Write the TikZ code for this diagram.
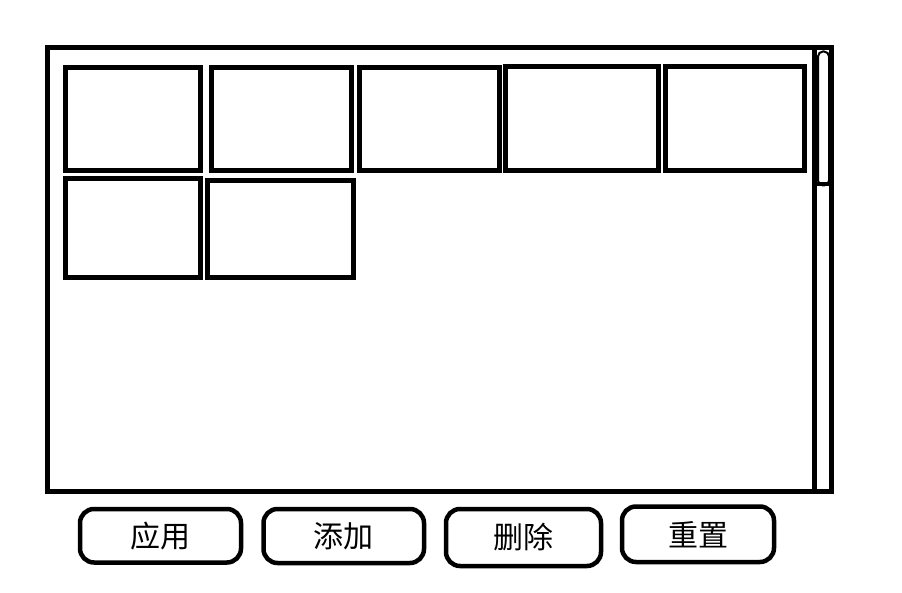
\documentclass[tikz,border=0pt]{standalone}
\usepackage{fontspec}
\newfontfamily\cjk{Noto Sans CJK SC}
\begin{document}
\begin{tikzpicture}[x=1pt,y=-1pt,
  tile/.style={draw=black,line width=5pt,rectangle,inner sep=0pt,fill=white},
  btn/.style={draw=black,line width=4.5pt,rectangle,rounded corners=14pt,inner sep=0pt,
    font=\cjk\fontsize{30}{30}\selectfont},
  frame/.style={draw=black,line width=5pt,rectangle,inner sep=0pt}]
\useasboundingbox (0,0) rectangle (902,593);
\fill[white] (0,0) rectangle (902,593);
% outer frame
\node[frame,minimum width=784pt,minimum height=443.5pt] (frame) at (439.5,269.25) {};
% scrollbar divider
\coordinate (dtop) at (814.5,47.5);
\coordinate (dbot) at (814.5,491);
\draw[line width=5pt] (dtop) -- (dbot);
% scrollbar thumb
\node[draw=black,line width=2pt,rounded corners=5pt,rectangle,inner sep=0pt,
  minimum width=11pt,minimum height=134pt] (thumb) at (823.5,118.5) {};
\coordinate (tl) at (816,184.5);
\coordinate (tr) at (830,184.5);
\draw[line width=4pt] (tl) -- (tr);
% tiles
\node[tile,minimum width=134.5pt,minimum height=103pt] (b1) at (132.75,119.5) {};
\node[tile,minimum width=140pt,minimum height=103pt] (b2) at (281.5,119.5) {};
\node[tile,minimum width=140pt,minimum height=103pt] (b3) at (429.5,119.5) {};
\node[tile,minimum width=153.5pt,minimum height=104.5pt] (b4) at (581.75,118.75) {};
\node[tile,minimum width=139.5pt,minimum height=104.5pt] (b5) at (734.75,118.75) {};
\node[tile,minimum width=134.5pt,minimum height=98.5pt] (b6) at (132.75,228.25) {};
\node[tile,minimum width=145.5pt,minimum height=97pt] (b7) at (280.25,229) {};
% buttons
\node[btn,minimum width=161pt,minimum height=53.5pt] (apply) at (160.5,535.75) {应用};
\node[btn,minimum width=160.5pt,minimum height=54pt] (add) at (343.75,536) {添加};
\node[btn,minimum width=155pt,minimum height=57pt] (del) at (523.5,537.5) {删除};
\node[btn,minimum width=152pt,minimum height=55.5pt] (reset) at (698,534.25) {重置};
\end{tikzpicture}
\end{document}
